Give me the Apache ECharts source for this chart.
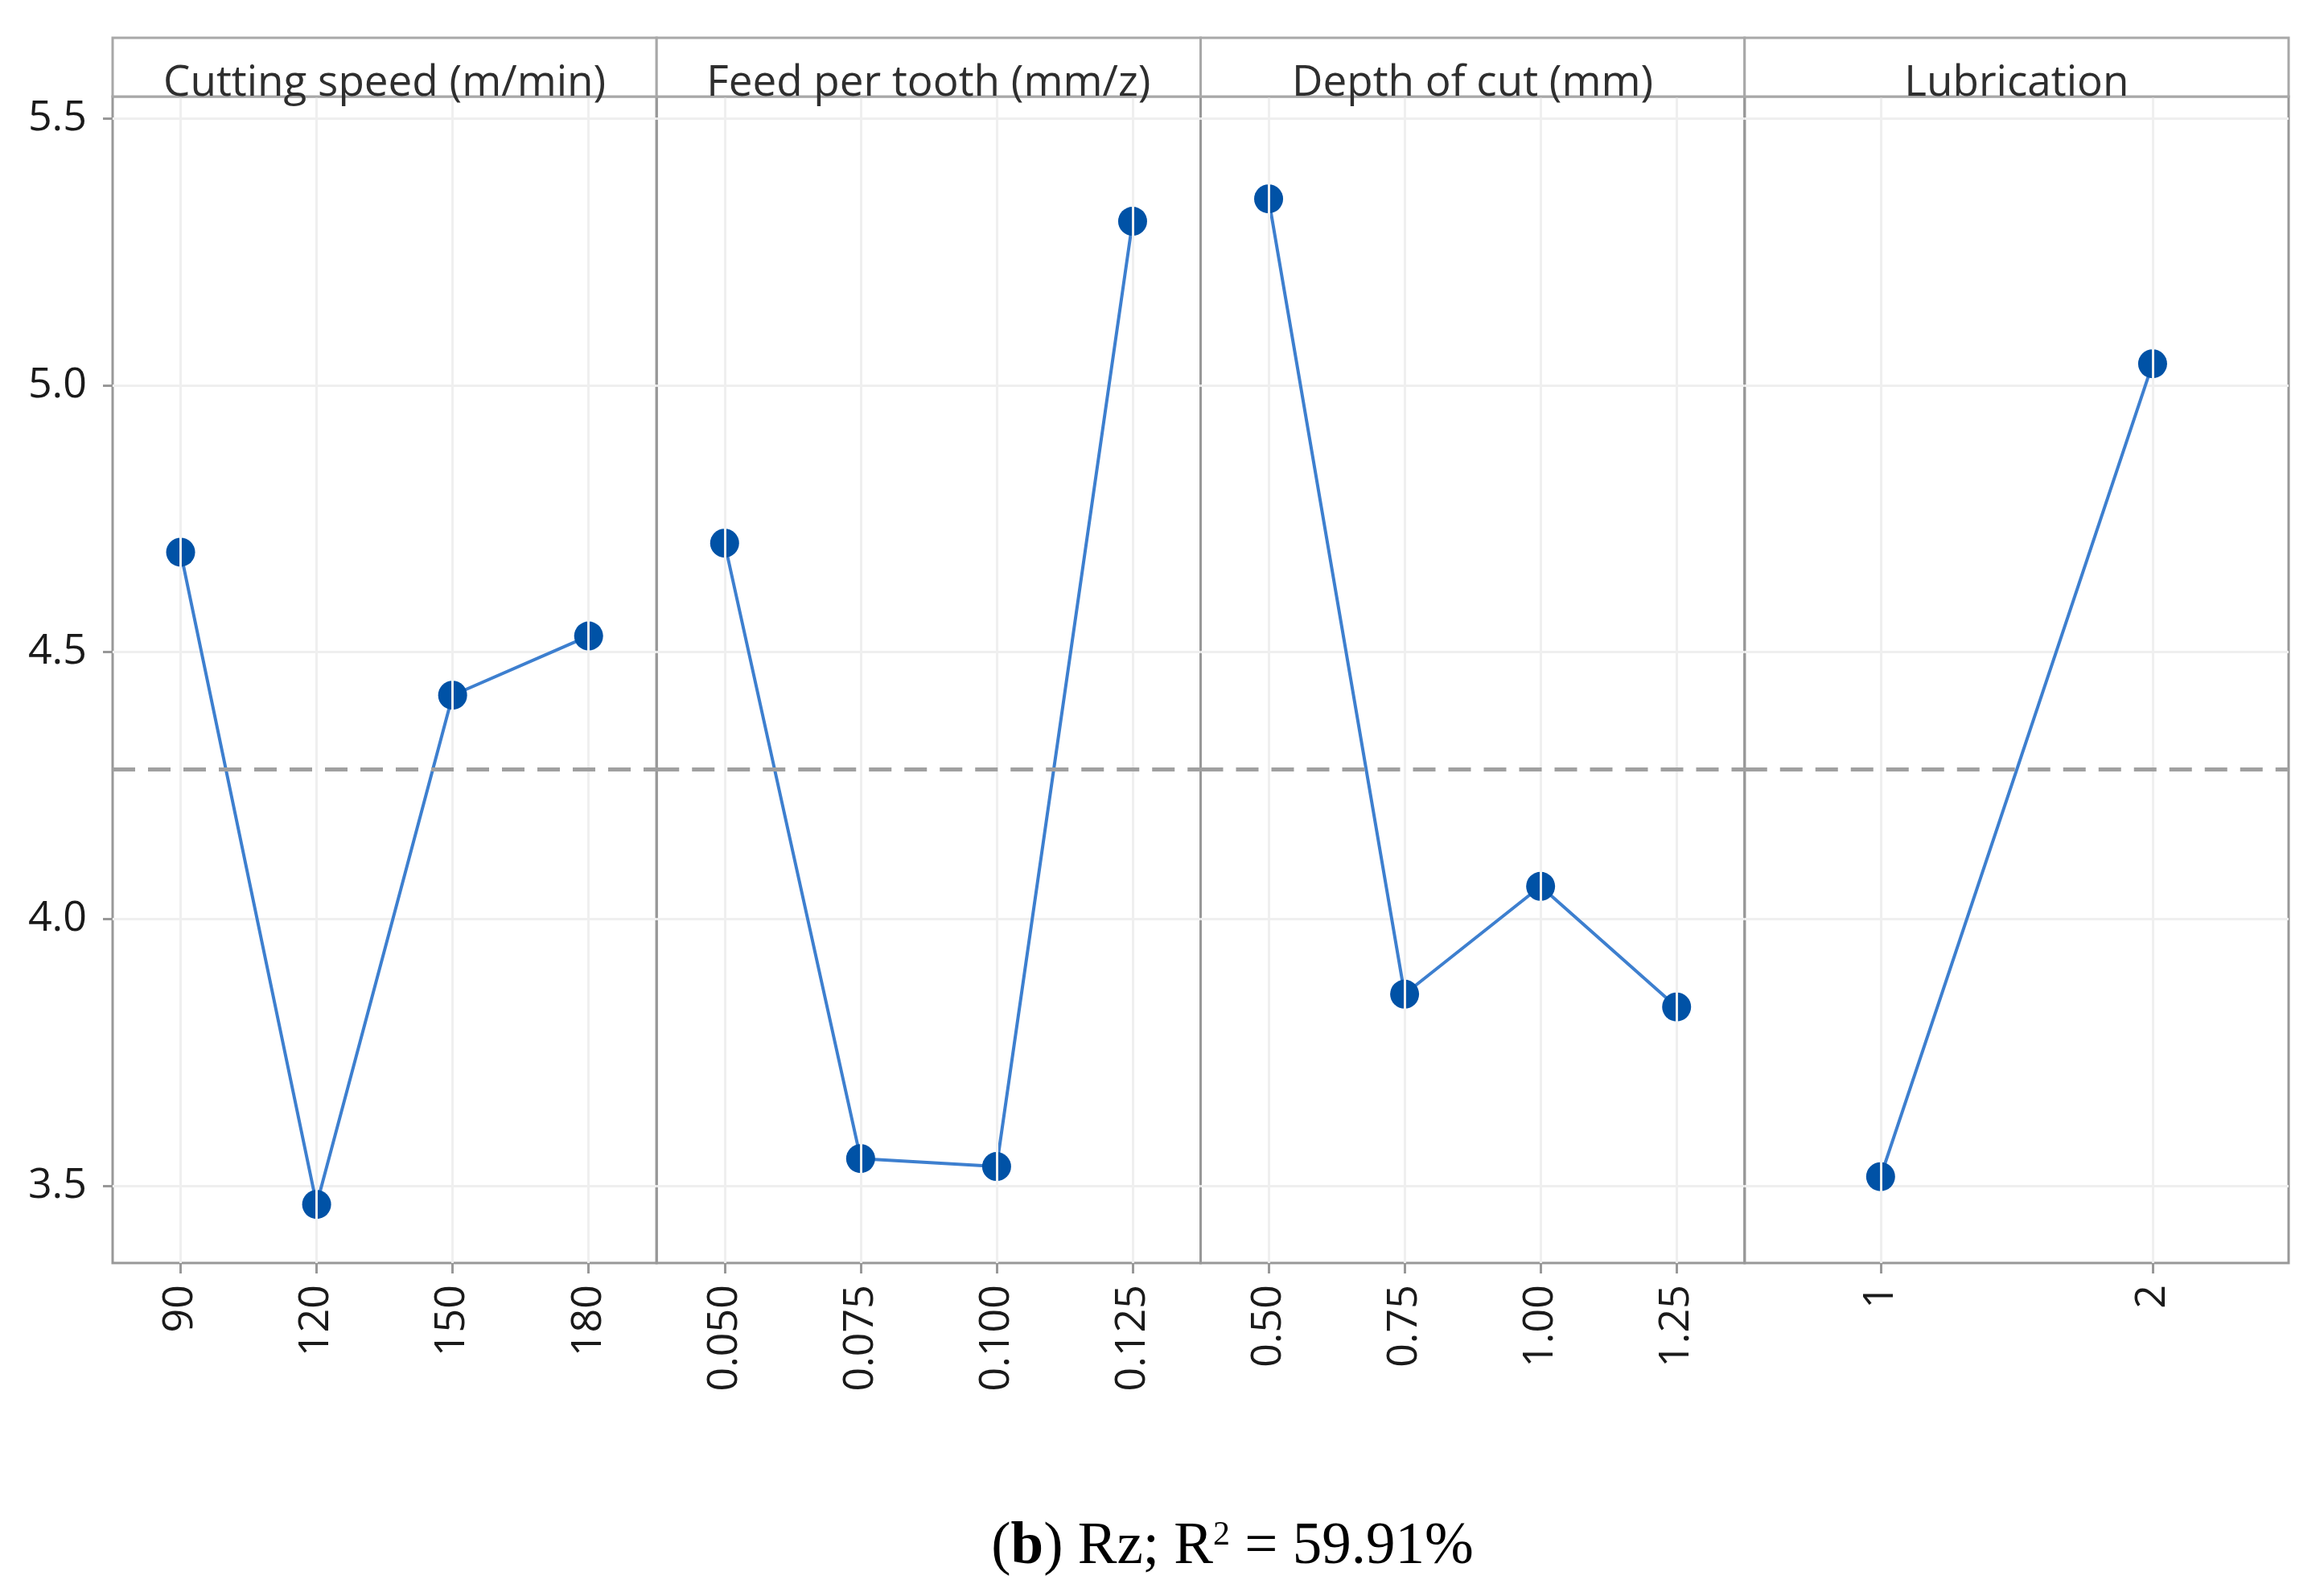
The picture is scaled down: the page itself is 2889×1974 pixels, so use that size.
<!DOCTYPE html>
<html><head><meta charset="utf-8">
<script src="https://cdn.jsdelivr.net/npm/echarts@6/dist/echarts.min.js"></script>
<style>html,body{margin:0;padding:0;background:#fff}#c{width:2889px;height:1974px}</style>
</head><body><div id="c"></div>
<script>
// ---- data ----
const panelTitles = ['Cutting speed (m/min)', 'Feed per tooth (mm/z)', 'Depth of cut (mm)', 'Lubrication'];
const speedLevels = ['90', '120', '150', '180'];
const feedLevels = ['0.050', '0.075', '0.100', '0.125'];
const depthLevels = ['0.50', '0.75', '1.00', '1.25'];
const lubricationLevels = ['1', '2'];
const speedMeans = [4.687, 3.465, 4.419, 4.530];
const feedMeans = [4.704, 3.551, 3.536, 5.307];
const depthMeans = [5.349, 3.859, 4.061, 3.835];
const lubricationMeans = [3.517, 5.040];
const grandMean = 4.276;
const yTicks = [3.5, 4.0, 4.5, 5.0, 5.5];
const yMin = 3.3553, yMax = 5.5407;

// ---- layout ----
const levels = [speedLevels, feedLevels, depthLevels, lubricationLevels];
const means = [speedMeans, feedMeans, depthMeans, lubricationMeans];
const L = 140, R = 2845, TOP = 120, BOTTOM = 1570, STRIP_TOP = 47;
const W = (R - L) / 4;
const FONT = '"Open Sans", "Noto Sans", sans-serif';
const FRAME = '#989898';

const grids = [], xAxes = [], yAxes = [], series = [], graphics = [];
for (let i = 0; i < 4; i++) {
  grids.push({left: L + i * W, top: TOP, width: W, height: BOTTOM - TOP,
    show: true, borderColor: FRAME, borderWidth: 3, backgroundColor: 'transparent'});
  xAxes.push({gridIndex: i, type: 'category', data: levels[i], boundaryGap: true,
    axisLine: {show: false},
    axisTick: {show: true, alignWithLabel: true, length: 13, lineStyle: {color: FRAME, width: 3}},
    axisLabel: {rotate: 90, fontSize: 52, margin: 27, color: '#1a1a1a', fontFamily: FONT},
    splitLine: {show: false}});
  yAxes.push({gridIndex: i, type: 'value', min: yMin, max: yMax, splitNumber: 5,
    axisLine: {show: false},
    axisTick: {show: i === 0, length: 12, customValues: yTicks, lineStyle: {color: FRAME, width: 3}},
    axisLabel: {show: i === 0, fontSize: 52, margin: 32, color: '#1a1a1a', fontFamily: FONT,
      customValues: yTicks, formatter: v => v.toFixed(1)},
    splitLine: {show: true, lineStyle: {color: '#efefef', width: 3}}});
  // vertical grid lines at level positions
  series.push({type: 'line', xAxisIndex: i, yAxisIndex: i, data: means[i], showSymbol: false,
    lineStyle: {opacity: 0}, silent: true, z: 1,
    markLine: {silent: true, symbol: ['none', 'none'], label: {show: false},
      lineStyle: {type: 'solid', color: '#efefef', width: 3},
      data: levels[i].map(c => ({xAxis: c}))}});
  // mean line
  series.push({type: 'line', xAxisIndex: i, yAxisIndex: i, data: means[i],
    symbol: 'circle', symbolSize: 36, z: 3,
    itemStyle: {color: '#0052a6'},
    lineStyle: {color: '#3d7fcf', width: 4},
    markLine: {silent: true, symbol: ['none', 'none'], label: {show: false},
      lineStyle: {type: [28, 16], color: '#a0a0a0', width: 5},
      data: [{yAxis: grandMean}]}});
  // strip
  graphics.push({type: 'rect', shape: {x: L + i * W, y: STRIP_TOP, width: W, height: TOP - STRIP_TOP},
    style: {fill: '#fff', stroke: '#a8a8a8', lineWidth: 3}, z: 10});
  graphics.push({type: 'text', x: L + i * W + W / 2, y: 104, z: 11,
    style: {text: panelTitles[i], align: 'center', verticalAlign: 'middle',
      fontSize: 53, fontFamily: FONT, fill: '#2e2e2e'}});
}
graphics.push({type: 'text', x: 1532, y: 1924, z: 11,
  style: {text: '{n|(}{bd|b}{n|) Rz; R}{sup|2}{n| = 59.91%}', align: 'center', verticalAlign: 'middle',
    rich: {
      n: {fontSize: 73, fontFamily: '"Liberation Serif", serif', fill: '#000'},
      bd: {fontSize: 73, fontFamily: '"Liberation Serif", serif', fontWeight: 'bold', fill: '#000'},
      sup: {fontSize: 42, fontFamily: '"Liberation Serif", serif', fill: '#000', verticalAlign: 'top'}
    }}});

const chart = echarts.init(document.getElementById('c'), null, {renderer: 'canvas'});
chart.setOption({animation: false, backgroundColor: '#fff',
  grid: grids, xAxis: xAxes, yAxis: yAxes, series: series, graphic: graphics});
</script></body></html>
